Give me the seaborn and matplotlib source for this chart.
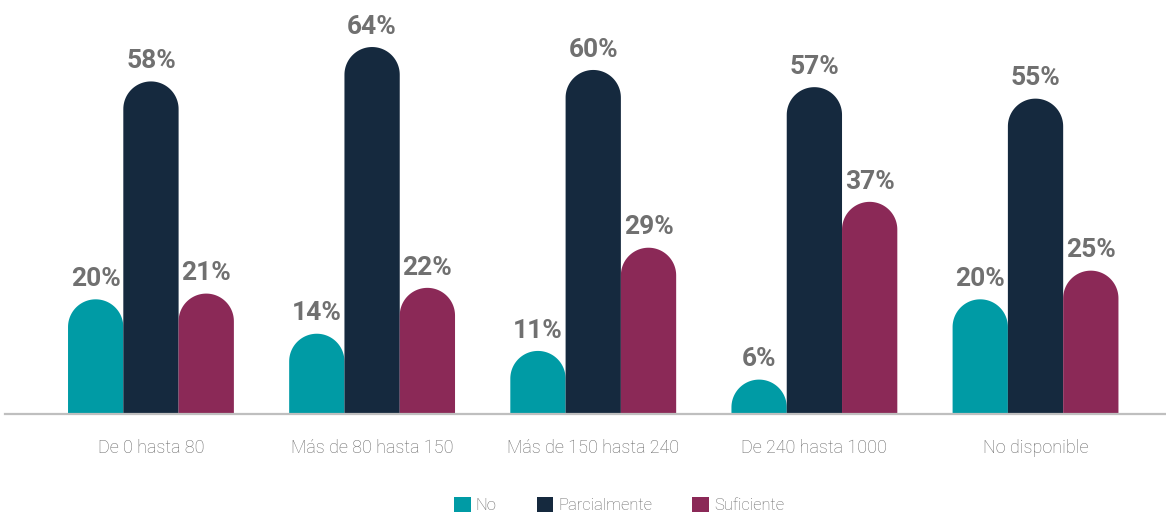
import numpy as np
import pandas as pd
import matplotlib
matplotlib.use('Agg')
import matplotlib.pyplot as plt
import seaborn as sns
from matplotlib.path import Path
from matplotlib.patches import PathPatch, Patch

# --- datos ---
rangos = ['De 0 hasta 80', 'Más de 80 hasta 150', 'Más de 150 hasta 240',
          'De 240 hasta 1000', 'No disponible']
respuestas = ['No', 'Parcialmente', 'Suficiente']
val_no = [20, 14, 11, 6, 20]
val_parcial = [58, 64, 60, 57, 55]
val_suficiente = [21, 22, 29, 37, 25]
colores = ['#009BA5', '#15293E', '#8B2957']

df = pd.DataFrame({
    'rango': rangos * 3,
    'respuesta': np.repeat(respuestas, len(rangos)),
    'valor': val_no + val_parcial + val_suficiente,
})

sns.set_theme(style='white')
plt.rcParams['font.family'] = ['Roboto', 'DejaVu Sans']

W, H = 1166, 515
fig = plt.figure(figsize=(W / 100, H / 100), dpi=100)
ax = fig.add_axes([5 / W, 101 / H, 1 - 5 / W, 414 / H])

sns.barplot(data=df, x='rango', y='valor', hue='respuesta', palette=colores,
            width=0.75, ax=ax, legend=False, saturation=1)

xmin, xmax = -0.66, 4.59
ymin, ymax = 0, 72.2
ax.set_xlim(xmin, xmax)
ax.set_ylim(ymin, ymax)

# escala px por unidad, para las puntas redondeadas
px_x = (W - 5) / (xmax - xmin)
px_y = 414 / (ymax - ymin)

for p in list(ax.patches):
    x0, w, h = p.get_x(), p.get_width(), p.get_height()
    if np.isnan(h) or h <= 0:
        continue
    color = p.get_facecolor()
    p.set_visible(False)
    r = w / 2
    ry = r * px_x / px_y
    base = max(h - ry, 0)
    t = np.linspace(0, np.pi, 60)
    cx = x0 + r
    arc = np.column_stack([cx + r * np.cos(t), base + ry * np.sin(t)])
    verts = np.vstack([[x0 + w, 0], arc, [x0, 0], [x0 + w, 0]])
    ax.add_patch(PathPatch(Path(verts), facecolor=color, edgecolor='none', zorder=2))
    ax.annotate(f'{h:.0f}%', (cx, h), xytext=(0, 6), textcoords='offset points',
                ha='center', va='bottom', fontsize=19, fontweight='bold', color='#707070')

for s in ['top', 'right', 'left']:
    ax.spines[s].set_visible(False)
ax.spines['bottom'].set_color('#BFBFBF')
ax.spines['bottom'].set_linewidth(1.6)
ax.set_yticks([])
ax.set_xlabel('')
ax.set_ylabel('')
ax.tick_params(axis='x', length=0, pad=18, labelsize=13, labelcolor='#666666')
for lbl in ax.get_xticklabels():
    lbl.set_fontweight('light')

handles = [Patch(facecolor=c, edgecolor='none') for c in colores]
leg = fig.legend(handles, respuestas, loc='center', bbox_to_anchor=(619 / W, 10 / H),
                 ncol=3, frameon=False, fontsize=12, handlelength=1, handleheight=1,
                 handletextpad=0.3, columnspacing=2.4)
for t in leg.get_texts():
    t.set_color('#666666')
    t.set_fontweight('light')

fig.savefig('out.png', dpi=100)
